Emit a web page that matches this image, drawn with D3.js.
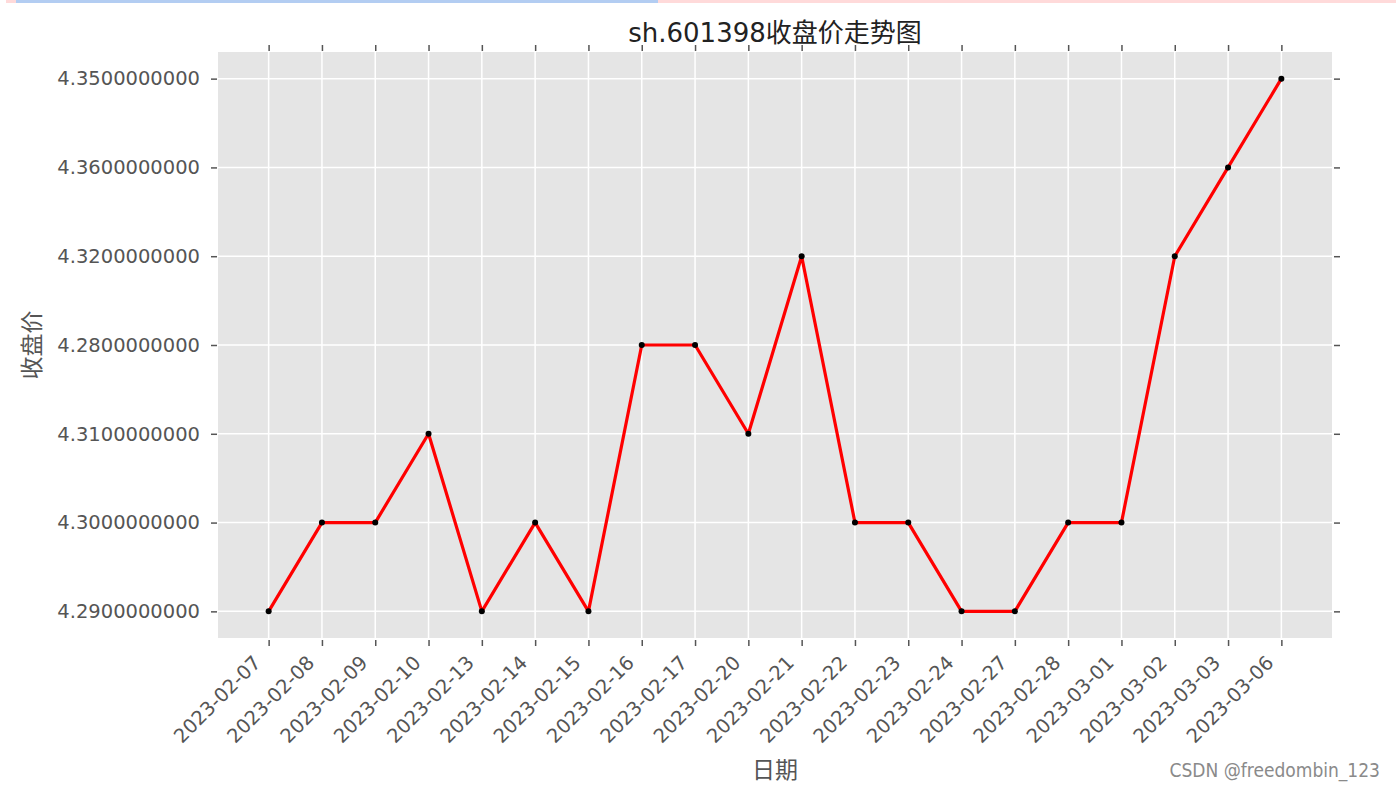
<!DOCTYPE html>
<html>
<head>
<meta charset="utf-8">
<script src="https://cdn.jsdelivr.net/npm/d3@7"></script>
<style>
  body { margin: 0; background: #fff; }
  svg { display: block; }
  .tick line { stroke: #555; stroke-width: 1.5; }
  .tick text { fill: #555; font-family: "DejaVu Sans", sans-serif; font-size: 19.5px; }
  .axis-label { fill: #555; font-family: "Noto Sans CJK SC", "DejaVu Sans", sans-serif; font-size: 23px; }
</style>
</head>
<body>
<div id="chart"></div>
<script>
// data
var dates = [
  "2023-02-07", "2023-02-08", "2023-02-09", "2023-02-10", "2023-02-13",
  "2023-02-14", "2023-02-15", "2023-02-16", "2023-02-17", "2023-02-20",
  "2023-02-21", "2023-02-22", "2023-02-23", "2023-02-24", "2023-02-27",
  "2023-02-28", "2023-03-01", "2023-03-02", "2023-03-03", "2023-03-06"
];
var closes = [
  4.29, 4.30, 4.30, 4.31, 4.29,
  4.30, 4.29, 4.28, 4.28, 4.31,
  4.32, 4.30, 4.30, 4.29, 4.29,
  4.30, 4.30, 4.32, 4.36, 4.35
];
var titleText = "sh.601398收盘价走势图";
var xLabelText = "日期";
var yLabelText = "收盘价";
var watermark = "CSDN @freedombin_123";

var width = 1396, height = 788;
var plot = { left: 218, right: 1332, top: 52, bottom: 638 };

var svg = d3.select("#chart").append("svg")
  .attr("width", width)
  .attr("height", height);

// strip along the top edge
svg.append("rect").attr("x", 6).attr("y", 0).attr("width", width - 6).attr("height", 3).attr("fill", "#ffdada");
svg.append("rect").attr("x", 16).attr("y", 0).attr("width", 642).attr("height", 3).attr("fill", "#b3cdf2");

// y is categorical: categories in order of first appearance (matplotlib string axis)
var yCats = [];
closes.forEach(d => { var k = d.toFixed(10); if (yCats.indexOf(k) < 0) yCats.push(k); });

var x = d3.scalePoint().domain(dates).range([plot.left, plot.right]).padding(0.95);
var y = d3.scalePoint().domain(yCats).range([plot.bottom, plot.top]).padding(0.3);

// background
svg.append("rect")
  .attr("x", plot.left).attr("y", plot.top)
  .attr("width", plot.right - plot.left).attr("height", plot.bottom - plot.top)
  .attr("fill", "#e5e5e5");

// grid
svg.append("g").selectAll("line").data(dates).enter().append("line")
  .attr("x1", d => x(d)).attr("x2", d => x(d))
  .attr("y1", plot.top).attr("y2", plot.bottom)
  .attr("stroke", "#fff").attr("stroke-width", 1.5);
svg.append("g").selectAll("line").data(yCats).enter().append("line")
  .attr("x1", plot.left).attr("x2", plot.right)
  .attr("y1", d => y(d)).attr("y2", d => y(d))
  .attr("stroke", "#fff").attr("stroke-width", 1.5);

// axes
var gLeft = svg.append("g").attr("transform", `translate(${plot.left - 1},0)`)
  .call(d3.axisLeft(y).tickSize(6).tickPadding(11));
var gRight = svg.append("g").attr("transform", `translate(${plot.right + 2},0)`)
  .call(d3.axisRight(y).tickSize(6).tickFormat(""));
var gTop = svg.append("g").attr("transform", `translate(0,${plot.top - 1})`)
  .call(d3.axisTop(x).tickSize(6).tickFormat(""));
var gBottom = svg.append("g").attr("transform", `translate(0,${plot.bottom + 2})`)
  .call(d3.axisBottom(x).tickSize(6));
[gLeft, gRight, gTop, gBottom].forEach(g => {
  g.select(".domain").remove();
  g.attr("font-size", null).attr("font-family", null);
});
gBottom.selectAll(".tick text")
  .attr("y", 0).attr("dy", 0)
  .attr("text-anchor", "end")
  .attr("transform", "translate(-7,24) rotate(-45)");

// line + points
var line = d3.line().x((d, i) => x(dates[i])).y(d => y(d.toFixed(10)));
svg.append("path")
  .datum(closes)
  .attr("d", line)
  .attr("fill", "none")
  .attr("stroke", "#ff0000")
  .attr("stroke-width", 3.2)
  .attr("stroke-linejoin", "round");
svg.append("g").selectAll("circle").data(closes).enter().append("circle")
  .attr("cx", (d, i) => x(dates[i]))
  .attr("cy", d => y(d.toFixed(10)))
  .attr("r", 3)
  .attr("fill", "#000");

// title and labels
svg.append("text")
  .attr("x", (plot.left + plot.right) / 2).attr("y", 42)
  .attr("text-anchor", "middle")
  .attr("fill", "#222")
  .attr("font-family", "'DejaVu Sans', 'Noto Sans CJK SC', sans-serif")
  .attr("font-size", 26)
  .text(titleText);

svg.append("text")
  .attr("class", "axis-label")
  .attr("x", (plot.left + plot.right) / 2).attr("y", 778)
  .attr("text-anchor", "middle")
  .text(xLabelText);

svg.append("text")
  .attr("class", "axis-label")
  .attr("transform", `translate(40,${(plot.top + plot.bottom) / 2}) rotate(-90)`)
  .attr("text-anchor", "middle")
  .text(yLabelText);

svg.append("text")
  .attr("x", 1380).attr("y", 777)
  .attr("text-anchor", "end")
  .attr("fill", "#8a8a8a")
  .attr("font-family", "'Liberation Sans Narrow', 'DejaVu Sans Condensed', sans-serif")
  .attr("font-size", 19)
  .text(watermark);
</script>
</body>
</html>
